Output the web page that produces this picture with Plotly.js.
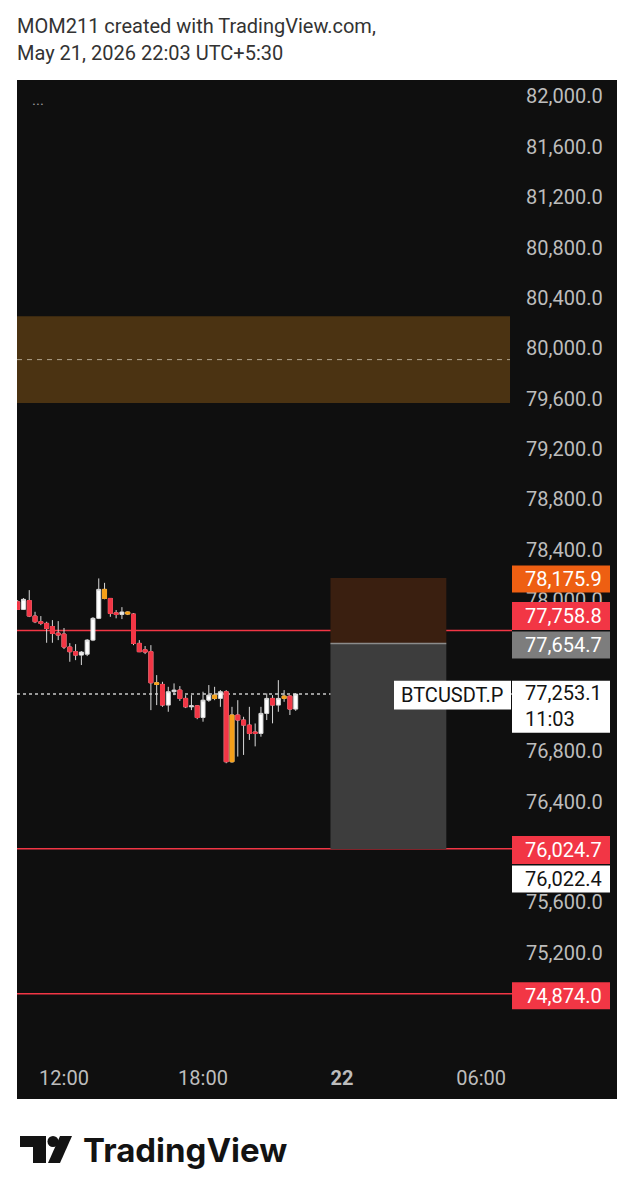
<!DOCTYPE html>
<html>
<head>
<meta charset="utf-8">
<script src="https://cdn.plot.ly/plotly-3.0.1.min.js"></script>
<style>
html,body{margin:0;padding:0;background:#ffffff;}
#chart{width:634px;height:1200px;}
</style>
</head>
<body>
<div id="chart"></div>
<script>
// ---------- DATA ----------
const times = [
 '2026-05-21 10:00','2026-05-21 10:15','2026-05-21 10:30','2026-05-21 10:45',
 '2026-05-21 11:00','2026-05-21 11:15','2026-05-21 11:30','2026-05-21 11:45',
 '2026-05-21 12:00','2026-05-21 12:15','2026-05-21 12:30','2026-05-21 12:45',
 '2026-05-21 13:00','2026-05-21 13:15','2026-05-21 13:30','2026-05-21 13:45',
 '2026-05-21 14:00','2026-05-21 14:15','2026-05-21 14:30','2026-05-21 14:45',
 '2026-05-21 15:00','2026-05-21 15:15','2026-05-21 15:30','2026-05-21 15:45',
 '2026-05-21 16:00','2026-05-21 16:15','2026-05-21 16:30','2026-05-21 16:45',
 '2026-05-21 17:00','2026-05-21 17:15','2026-05-21 17:30','2026-05-21 17:45',
 '2026-05-21 18:00','2026-05-21 18:15','2026-05-21 18:30','2026-05-21 18:45',
 '2026-05-21 19:00','2026-05-21 19:15','2026-05-21 19:30','2026-05-21 19:45',
 '2026-05-21 20:00','2026-05-21 20:15','2026-05-21 20:30','2026-05-21 20:45',
 '2026-05-21 21:00','2026-05-21 21:15','2026-05-21 21:30','2026-05-21 21:45',
 '2026-05-21 22:00'
];
const open  = [77986,77926,77996,77873,77828,77815,77790,77738,77730,77627,77590,77563,77570,77682,77855,78085,78013,77899,77886,77905,77889,77656,77605,77590,77343,77330,77166,77272,77285,77219,77152,77160,77067,77205,77245,77219,77272,76716,77087,77047,77007,76952,76941,77100,77219,77166,77219,77237,77134];
const high  = [78000,78016,78079,77907,77873,77828,77841,77833,77778,77658,77650,77595,77690,77865,78172,78137,78016,77921,77944,77910,77897,77682,77635,77642,77404,77351,77311,77338,77317,77245,77245,77166,77272,77325,77311,77285,77285,77152,77205,77073,77152,77020,77152,77259,77245,77364,77285,77245,77260];
const low   = [77921,77921,77865,77817,77801,77661,77661,77682,77611,77510,77523,77484,77555,77674,77849,78006,77867,77855,77849,77881,77642,77587,77571,77126,77166,77152,77113,77245,77199,77142,77126,77054,77034,77192,77205,77152,76704,76708,76757,76770,76889,76838,76915,77047,77021,77113,77192,77087,77120];
const close = [77926,78006,77873,77828,77815,77775,77735,77722,77627,77590,77563,77587,77682,77855,78085,78013,77894,77886,77905,77889,77656,77590,77587,77343,77330,77166,77272,77285,77219,77152,77160,77067,77205,77245,77219,77272,76716,77087,77047,77007,76941,76941,77100,77219,77166,77219,77237,77134,77253.1];
// candles flagged by the indicator colouring (drawn orange)
const highlight = [0,0,0,0,0,0,0,0,0,0,0,0,0,0,0,1,0,0,0,1,0,0,0,0,1,0,0,0,0,0,0,0,0,0,1,0,0,1,0,0,0,0,0,0,0,0,1,0,0];

const timeTickVals   = ['2026-05-21 12:00','2026-05-21 18:00','2026-05-22 00:00','2026-05-22 06:00'];
const timeTickLabels = ['12:00','18:00','<b>22</b>','06:00'];
// price-scale ticks (those hidden behind price labels are omitted)
const priceTicks = [75200,75600,76400,76800,78000,78400,78800,79200,79600,80000,80400,80800,81200,81600,82000];

const symbol = 'BTCUSDT.P';
const lastPrice = 77253.1;
const countdown = '11:03';
const levelLines = [77758.8, 76024.7, 74874.0];
const stopPrice = 78175.9, entryPrice = 77654.7, targetPrice = 76022.4;
const positionStart = '2026-05-21 23:30', positionEnd = '2026-05-22 04:30';
const zoneHigh = 80255, zoneLow = 79565;
const zoneEnd = '2026-05-22 07:15';
const xRange = ['2026-05-21 09:58:17','2026-05-22 07:20:06'];
const yRange = [74466, 82131];

const headerLine1 = 'MOM211 created with TradingView.com,';
const headerLine2 = 'May 21, 2026 22:03 UTC+5:30';
const brand = 'TradingView';

// ---------- GEOMETRY / STYLE ----------
const W = 634, H = 1200, PL = 17, PR = 512, PT = 80, PB = 1045, PANEL_R = 617, PANEL_B = 1099;
const fx = p => (p - PL) / (PR - PL);
const fy = p => (PB - p) / (PB - PT);
const FONT = 'Roboto, "Noto Sans", sans-serif';
const FS = 20;
const RED = '#f23645', ORANGE_LBL = '#ee5f12', GREY_LBL = '#7d7d7d', CANDLE_OR = '#f5a01a';
const fmt = v => v.toLocaleString('en-US', {minimumFractionDigits: 1, maximumFractionDigits: 1});

// ---------- TRACES ----------
const idx = times.map((_, i) => i);
const redIdx = idx.filter(i => !highlight[i] && close[i] < open[i]);
const orIdx = idx.filter(i => highlight[i]);
const pick = (arr, ids) => ids.map(i => arr[i]);

const wickTrace = {
  type: 'candlestick', x: times, open, high, low, close,
  increasing: {line: {color: '#d9d9d9', width: 1}, fillcolor: '#ffffff'},
  decreasing: {line: {color: '#d9d9d9', width: 1}, fillcolor: '#ffffff'},
  hoverinfo: 'skip', showlegend: false
};
const redBodies = {
  type: 'candlestick', x: pick(times, redIdx),
  open: pick(open, redIdx), close: pick(close, redIdx),
  high: pick(open, redIdx), low: pick(close, redIdx),
  increasing: {line: {color: RED, width: 1}, fillcolor: RED},
  decreasing: {line: {color: RED, width: 1}, fillcolor: RED},
  hoverinfo: 'skip', showlegend: false
};
const orBodies = {
  type: 'candlestick', x: pick(times, orIdx),
  open: pick(open, orIdx), close: pick(close, orIdx),
  high: orIdx.map(i => Math.max(open[i], close[i])), low: orIdx.map(i => Math.min(open[i], close[i])),
  increasing: {line: {color: CANDLE_OR, width: 1}, fillcolor: CANDLE_OR},
  decreasing: {line: {color: CANDLE_OR, width: 1}, fillcolor: CANDLE_OR},
  hoverinfo: 'skip', showlegend: false
};

// ---------- SHAPES ----------
const shapes = [];
shapes.push({type: 'rect', xref: 'paper', yref: 'paper', x0: 0, x1: fx(PANEL_R), y0: fy(PANEL_B), y1: 1,
  fillcolor: '#0f0f0f', line: {width: 0}, layer: 'below'});
shapes.push({type: 'rect', xref: 'x', yref: 'y', x0: xRange[0], x1: zoneEnd, y0: zoneLow, y1: zoneHigh,
  fillcolor: '#4b3312', line: {width: 0}, layer: 'below'});
shapes.push({type: 'line', xref: 'x', yref: 'y', x0: xRange[0], x1: zoneEnd, y0: (zoneHigh + zoneLow) / 2, y1: (zoneHigh + zoneLow) / 2,
  line: {color: '#b0a38c', width: 1, dash: '5px,5px'}, layer: 'below'});
shapes.push({type: 'rect', xref: 'x', yref: 'y', x0: positionStart, x1: positionEnd, y0: entryPrice, y1: stopPrice,
  fillcolor: '#3a1f10', line: {width: 0}, layer: 'below'});
shapes.push({type: 'rect', xref: 'x', yref: 'y', x0: positionStart, x1: positionEnd, y0: targetPrice, y1: entryPrice,
  fillcolor: '#3d3d3d', line: {width: 0}, layer: 'below'});
shapes.push({type: 'line', xref: 'x', yref: 'y', x0: positionStart, x1: positionEnd, y0: entryPrice, y1: entryPrice,
  line: {color: '#8c8c8c', width: 1.5}, layer: 'below'});
levelLines.forEach(v => shapes.push({type: 'line', xref: 'paper', yref: 'y', x0: 0, x1: 1, y0: v, y1: v,
  line: {color: RED, width: 1.5}, layer: 'below'}));
shapes.push({type: 'line', xref: 'paper', yref: 'y', x0: 0, x1: 1, y0: lastPrice, y1: lastPrice,
  line: {color: '#c8c8c8', width: 1.5, dash: 'dot'}, layer: 'below'});

// price-scale labels
const annotations = [];
function priceLabel(price, text, bg, fg, dy, h) {
  shapes.push({type: 'rect', xref: 'paper', xsizemode: 'pixel', xanchor: 1, x0: 0, x1: 98,
    yref: 'y', ysizemode: 'pixel', yanchor: price, y0: dy - h / 2, y1: dy + h / 2,
    fillcolor: bg, line: {width: 0}, layer: 'above'});
  annotations.push({xref: 'paper', x: 1, xanchor: 'left', xshift: 11, yref: 'y', y: price, yanchor: 'middle', yshift: dy,
    text: text, showarrow: false, align: 'left', font: {family: FONT, size: FS, color: fg}});
}
priceLabel(stopPrice, fmt(stopPrice), ORANGE_LBL, '#ffffff', -1, 27);
priceLabel(levelLines[0], fmt(levelLines[0]), RED, '#ffffff', 14.5, 28);
priceLabel(entryPrice, fmt(entryPrice), GREY_LBL, '#ffffff', -1.5, 27);
priceLabel(levelLines[1], fmt(levelLines[1]), RED, '#ffffff', -1.2, 28);
priceLabel(targetPrice, fmt(targetPrice), '#ffffff', '#131313', -30, 27);
priceLabel(levelLines[2], fmt(levelLines[2]), RED, '#ffffff', -2, 27);

// last price box (two lines)
shapes.push({type: 'rect', xref: 'paper', xsizemode: 'pixel', xanchor: 1, x0: 0, x1: 98,
  yref: 'y', ysizemode: 'pixel', yanchor: lastPrice, y0: -38.7, y1: 13.3,
  fillcolor: '#ffffff', line: {width: 0}, layer: 'above'});
annotations.push({xref: 'paper', x: 1, xanchor: 'left', xshift: 11, yref: 'y', y: lastPrice, yanchor: 'middle', yshift: -12,
  text: fmt(lastPrice) + '<br>' + countdown, showarrow: false, align: 'left', font: {family: FONT, size: FS, color: '#131313'}});
// symbol tag
shapes.push({type: 'rect', xref: 'paper', xsizemode: 'pixel', xanchor: 1, x0: -118, x1: -1,
  yref: 'y', ysizemode: 'pixel', yanchor: lastPrice, y0: -15.3, y1: 13.3,
  fillcolor: '#ffffff', line: {width: 0}, layer: 'above'});
annotations.push({xref: 'paper', x: 1, xanchor: 'right', xshift: -7, yref: 'y', y: lastPrice, yanchor: 'middle', yshift: -1,
  text: symbol, showarrow: false, font: {family: FONT, size: FS, color: '#131313'}});

// header + misc text
annotations.push({xref: 'paper', yref: 'paper', x: 0, y: fy(26), xanchor: 'left', yanchor: 'middle', xshift: -2,
  text: headerLine1, showarrow: false, font: {family: FONT, size: 20, color: '#333333'}});
annotations.push({xref: 'paper', yref: 'paper', x: 0, y: fy(53), xanchor: 'left', yanchor: 'middle', xshift: -2,
  text: headerLine2, showarrow: false, font: {family: FONT, size: 20, color: '#333333'}});
annotations.push({xref: 'paper', yref: 'paper', x: fx(38), y: fy(100), xanchor: 'center', yanchor: 'middle',
  text: '...', showarrow: false, font: {family: FONT, size: 15, color: '#9a9a9a'}});
annotations.push({xref: 'paper', yref: 'paper', x: fx(81), y: fy(1150), xanchor: 'left', yanchor: 'middle',
  text: brand, showarrow: false, font: {family: 'Inter, Roboto, sans-serif', size: 33, weight: 700, color: '#131313'}});

// logo glyph
const poly = pts => 'M ' + pts.map(p => fx(p[0]) + ',' + fy(p[1])).join(' L ') + ' Z';
shapes.push({type: 'path', xref: 'paper', yref: 'paper', layer: 'above', fillcolor: '#131313', line: {width: 0},
  path: poly([[20,1136],[46,1136],[46,1163],[33,1163],[33,1147],[20,1147]])});
shapes.push({type: 'circle', xref: 'paper', yref: 'paper', layer: 'above', fillcolor: '#131313', line: {width: 0},
  x0: fx(47.5), x1: fx(58.5), y0: fy(1147), y1: fy(1136)});
shapes.push({type: 'path', xref: 'paper', yref: 'paper', layer: 'above', fillcolor: '#131313', line: {width: 0},
  path: poly([[60,1136],[72,1136],[60,1163],[48,1163]])});

const layout = {
  width: W, height: H,
  margin: {l: PL, r: W - PR, t: PT, b: H - PB, pad: 0},
  paper_bgcolor: '#ffffff', plot_bgcolor: '#0f0f0f',
  showlegend: false, hovermode: false, dragmode: false,
  boxgap: 0.2, boxgroupgap: 0.14,
  font: {family: FONT, size: FS, color: '#bdbdbd'},
  xaxis: {type: 'date', range: xRange, rangeslider: {visible: false}, showgrid: false, zeroline: false, showline: false,
    tickmode: 'array', tickvals: timeTickVals, ticktext: timeTickLabels,
    ticks: 'outside', ticklen: 15, tickcolor: 'rgba(0,0,0,0)', tickfont: {family: FONT, size: FS, color: '#bdbdbd'}, fixedrange: true},
  yaxis: {side: 'right', range: yRange, tickmode: 'array', tickvals: priceTicks, tickformat: ',.1f',
    showgrid: false, zeroline: false, showline: false,
    ticks: 'outside', ticklen: 9, tickcolor: 'rgba(0,0,0,0)', tickfont: {family: FONT, size: FS, color: '#bdbdbd'}, fixedrange: true},
  shapes, annotations
};

Plotly.newPlot('chart', [wickTrace, redBodies, orBodies], layout, {staticPlot: true, displayModeBar: false});
</script>
</body>
</html>
